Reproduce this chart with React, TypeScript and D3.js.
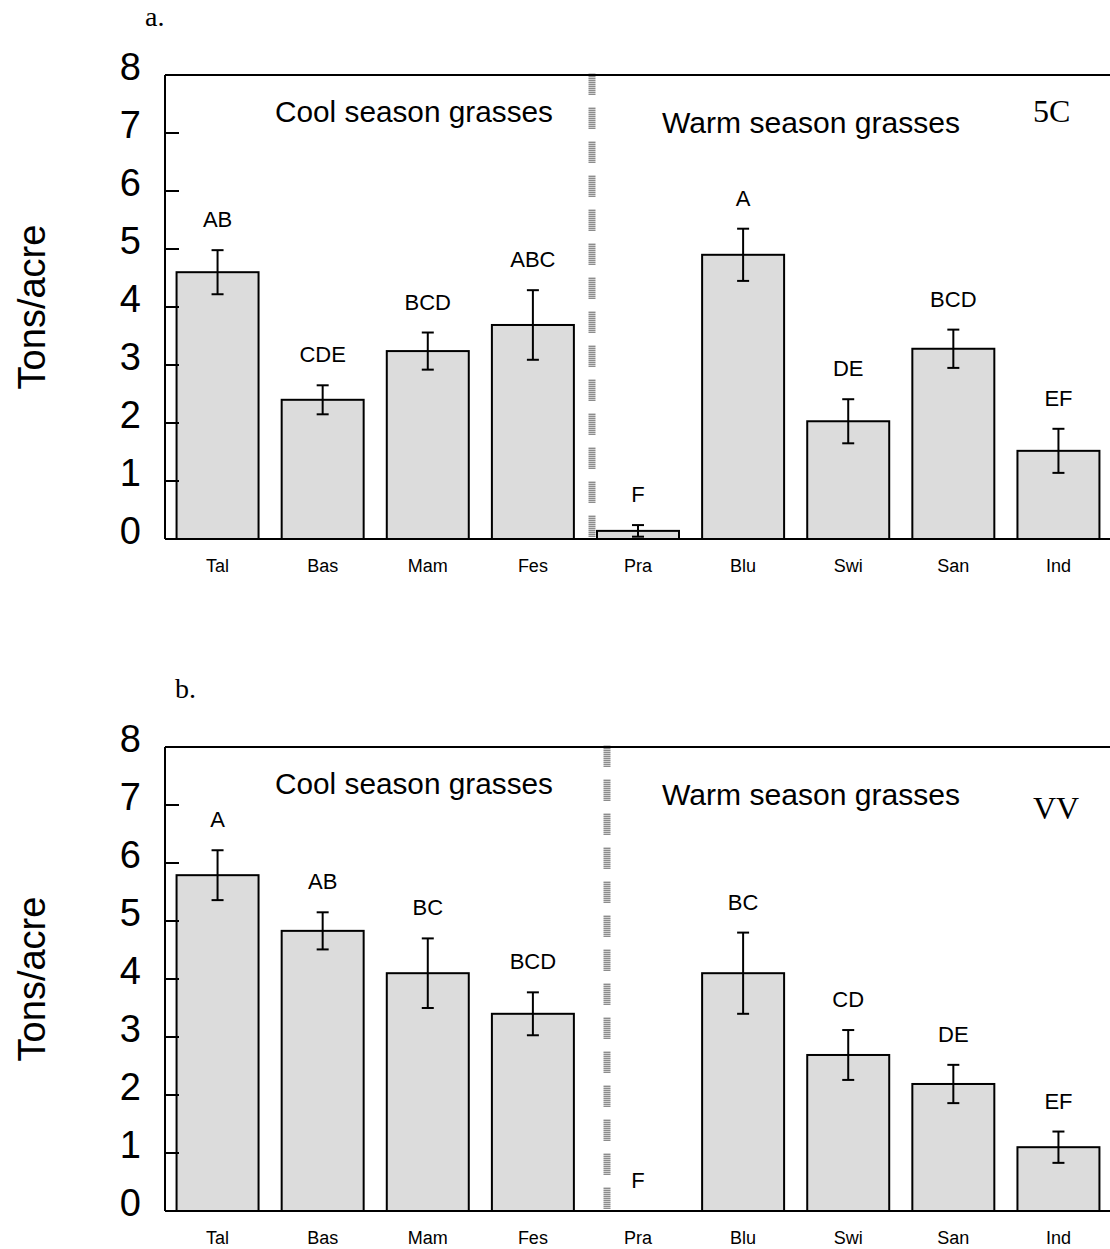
import React from "react";
import * as d3 from "d3";

// grass species, same order in both panels
const categories = ["Tal", "Bas", "Mam", "Fes", "Pra", "Blu", "Swi", "San", "Ind"];
const yTicks = [0, 1, 2, 3, 4, 5, 6, 7, 8];

// panel a (5C)
const valuesA = [4.6, 2.4, 3.24, 3.69, 0.14, 4.9, 2.03, 3.28, 1.52];
const errorsA = [0.38, 0.25, 0.32, 0.6, 0.1, 0.45, 0.38, 0.33, 0.38];
const lettersA = ["AB", "CDE", "BCD", "ABC", "F", "A", "DE", "BCD", "EF"];

// panel b (VV)
const valuesB = [5.79, 4.83, 4.1, 3.4, 0, 4.1, 2.69, 2.19, 1.1];
const errorsB = [0.43, 0.32, 0.6, 0.37, 0, 0.7, 0.43, 0.33, 0.27];
const lettersB = ["A", "AB", "BC", "BCD", "F", "BC", "CD", "DE", "EF"];

const SANS = "'Liberation Sans', Arial, sans-serif";
const SERIF = "'Liberation Serif', 'Times New Roman', serif";

const W = 1110;
const H = 1249;

const x = d3.scaleBand<string>()
    .domain(categories)
    .range([165, 1111])
    .paddingInner(0.22)
    .paddingOuter(0.11);

const Panel = ({ top, values, errors, letters, tag, panelLabel, panelLabelX, dividerX }) => {
    const y = d3.scaleLinear().domain([0, 8]).range([top + 464, top]);
    const left = 165;
    const right = W;
    const bw = x.bandwidth();

    return (
        <g>
            {/* panel label */}
            <text x={panelLabelX} y={top - 49} fontFamily={SERIF} fontSize={28}>{panelLabel}</text>

            {/* bars */}
            {categories.map((c, i) => (
                <rect key={c} x={x(c)} y={y(values[i])} width={bw}
                    height={y(0) - y(values[i])}
                    fill="#dcdcdc" stroke="#000" strokeWidth={2} />
            ))}

            {/* error bars */}
            {categories.map((c, i) => {
                const cx = x(c) + bw / 2;
                const hi = y(values[i] + errors[i]);
                const lo = y(Math.max(0, values[i] - errors[i]));
                return (
                    <g key={c} stroke="#000" strokeWidth={2}>
                        <line x1={cx} x2={cx} y1={hi} y2={lo} />
                        <line x1={cx - 6} x2={cx + 6} y1={hi} y2={hi} />
                        <line x1={cx - 6} x2={cx + 6} y1={lo} y2={lo} />
                    </g>
                );
            })}

            {/* significance letters */}
            {categories.map((c, i) => (
                <text key={c} x={x(c) + bw / 2} y={y(values[i] + errors[i]) - 23}
                    textAnchor="middle" fontFamily={SANS} fontSize={22}>{letters[i]}</text>
            ))}

            {/* divider between cool and warm season */}
            <line x1={dividerX} x2={dividerX} y1={y(8) - 2} y2={y(0)}
                stroke="url(#stripes)" strokeWidth={7} strokeDasharray="22,12" />

            {/* axes frame */}
            <line x1={left} x2={right} y1={y(8)} y2={y(8)} stroke="#000" strokeWidth={2} />
            <line x1={left} x2={right} y1={y(0)} y2={y(0)} stroke="#000" strokeWidth={2} />
            <line x1={left} x2={left} y1={y(8)} y2={y(0)} stroke="#000" strokeWidth={2} />

            {/* y ticks */}
            {yTicks.map(t => (
                <g key={t}>
                    {t > 0 && t < 8 && (
                        <line x1={left} x2={left + 14} y1={y(t)} y2={y(t)} stroke="#000" strokeWidth={2} />
                    )}
                    <text x={141} y={y(t) + 5} textAnchor="end" fontFamily={SANS} fontSize={38}>{t}</text>
                </g>
            ))}

            {/* category labels */}
            {categories.map(c => (
                <text key={c} x={x(c) + bw / 2} y={y(0) + 33} textAnchor="middle"
                    fontFamily={SANS} fontSize={18}>{c}</text>
            ))}

            {/* y axis title */}
            <text transform={`translate(45,${(y(0) + y(8)) / 2}) rotate(-90)`} textAnchor="middle"
                fontFamily={SANS} fontSize={38}>Tons/acre</text>

            {/* season headers */}
            <text x={414} y={y(8) + 47} textAnchor="middle" fontFamily={SANS} fontSize={29}
                textLength={278} lengthAdjust="spacingAndGlyphs">Cool season grasses</text>
            <text x={811} y={y(8) + 58} textAnchor="middle" fontFamily={SANS} fontSize={29}
                textLength={298} lengthAdjust="spacingAndGlyphs">Warm season grasses</text>
            <text x={1033} y={y(8) + 47 + (tag === "VV" ? 25 : 0)} fontFamily={SERIF} fontSize={32}>{tag}</text>
        </g>
    );
};

const App = () => {
    return (
        <svg width={W} height={H} style={{ position: "absolute", left: 0, top: 0, background: "#fff" }}>
            <defs>
                <pattern id="stripes" patternUnits="userSpaceOnUse" width={8} height={2}>
                    <rect x={0} y={0} width={8} height={1} fill="#8c8c8c" />
                    <rect x={0} y={1} width={8} height={1} fill="#cfcfcf" />
                </pattern>
            </defs>
            <rect x={0} y={0} width={W} height={H} fill="#fff" />
            <Panel top={75} values={valuesA} errors={errorsA} letters={lettersA}
                tag="5C" panelLabel="a." panelLabelX={145} dividerX={592} />
            <Panel top={747} values={valuesB} errors={errorsB} letters={lettersB}
                tag="VV" panelLabel="b." panelLabelX={175} dividerX={607} />
        </svg>
    );
};

export default App;
